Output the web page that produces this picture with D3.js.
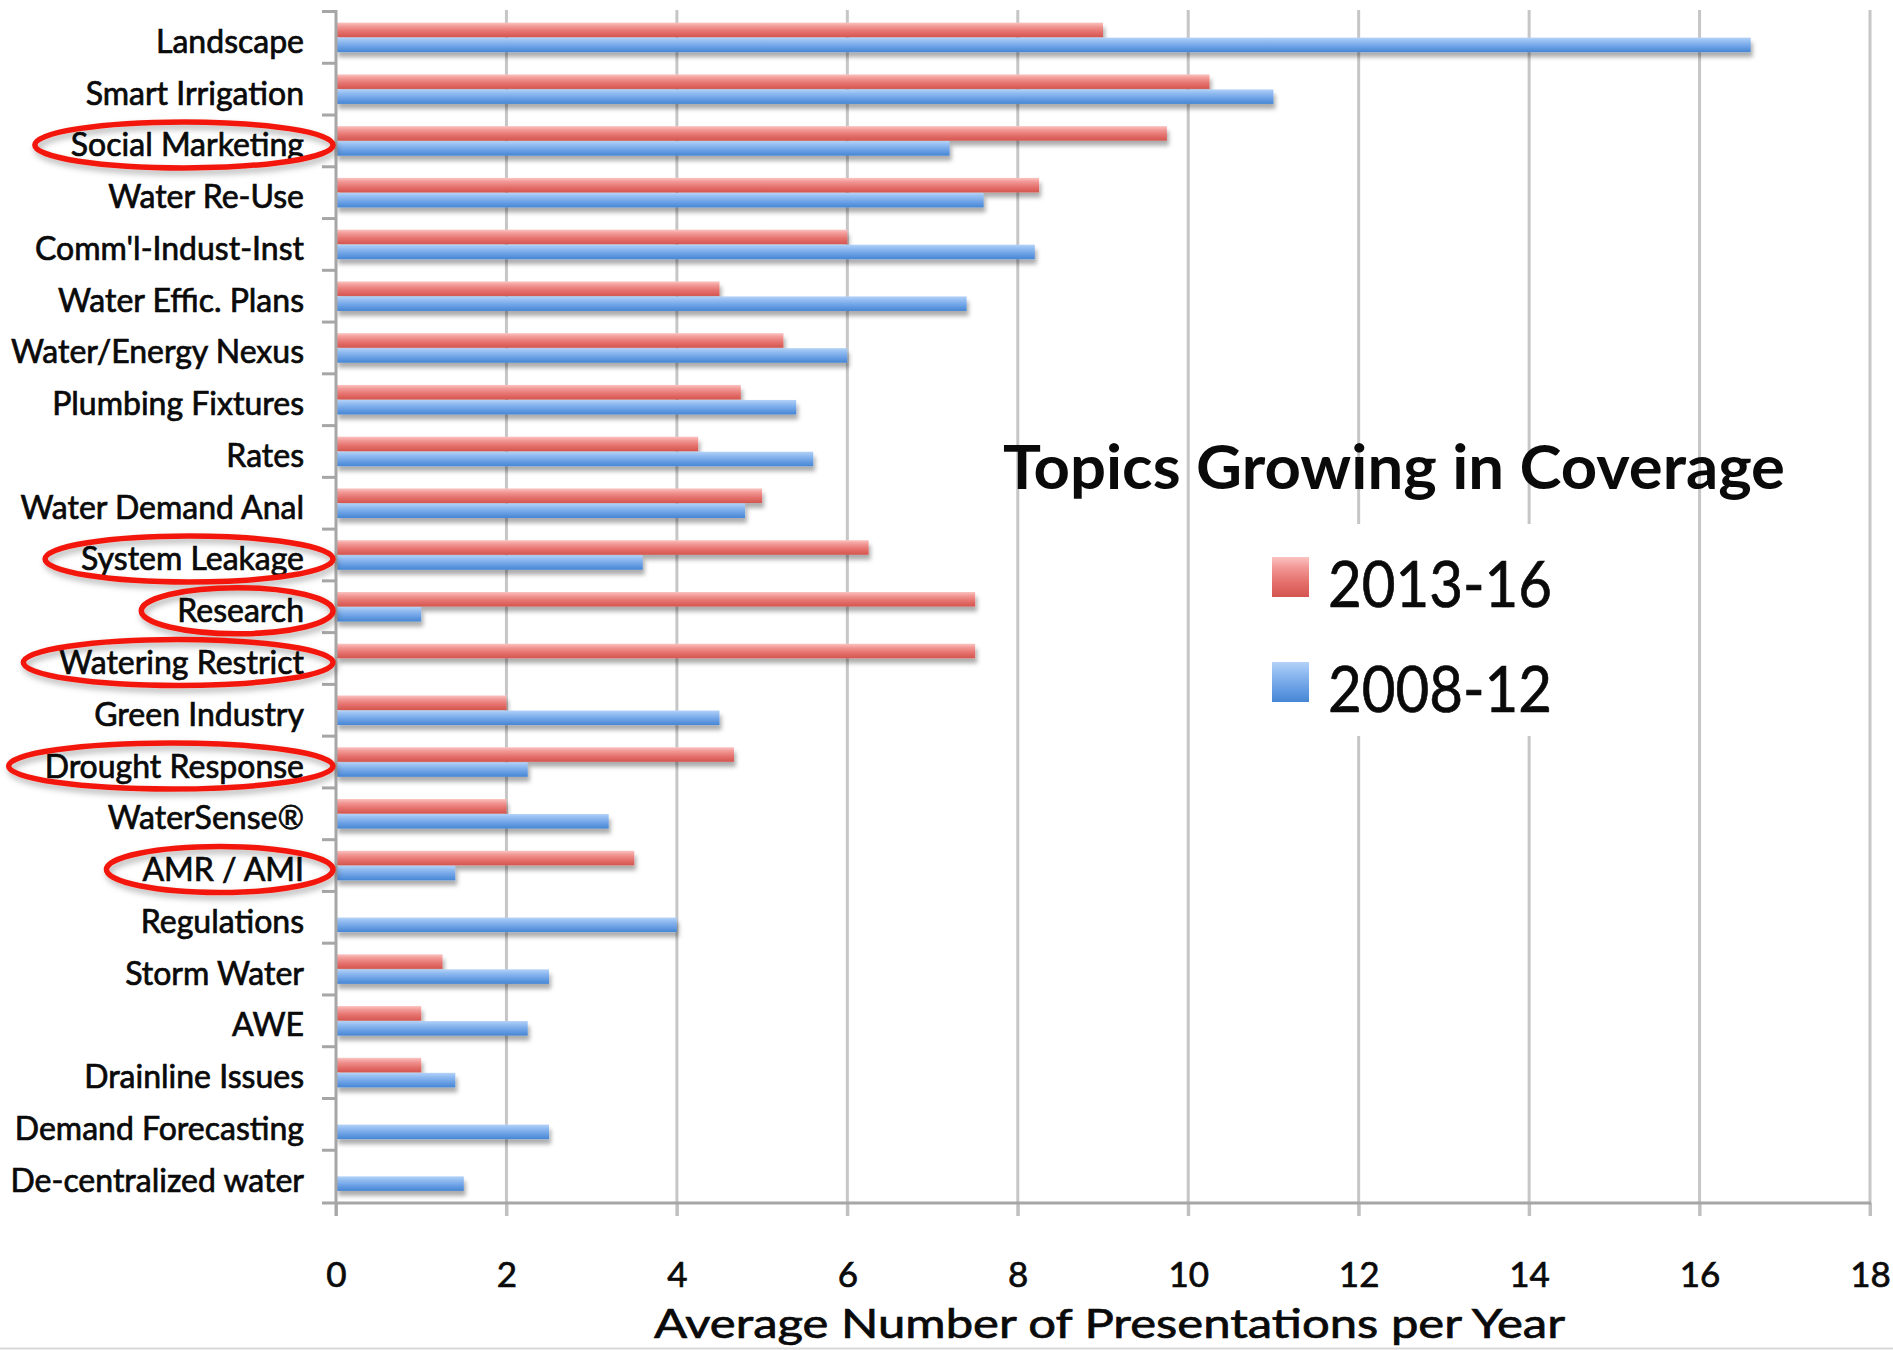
<!DOCTYPE html>
<html>
<head>
<meta charset="utf-8">
<title>Topics Growing in Coverage</title>
<script src="https://cdn.jsdelivr.net/npm/d3@7"></script>
<style>
  html, body { margin: 0; padding: 0; background: #fff; }
  svg { display: block; }
  text { font-family: Lato, "Open Sans", "DejaVu Sans", sans-serif; fill: #0a0a0a; }
  .heavy { stroke: #0a0a0a; stroke-width: 0.7px; }
</style>
</head>
<body>
<svg id="chart" width="1893" height="1350"></svg>
<script>
// Conference topics, top to bottom
const categories = [
  "Landscape", "Smart Irrigation", "Social Marketing", "Water Re-Use",
  "Comm'l-Indust-Inst", "Water Effic. Plans", "Water/Energy Nexus",
  "Plumbing Fixtures", "Rates", "Water Demand Anal", "System Leakage",
  "Research", "Watering Restrict", "Green Industry", "Drought Response",
  "WaterSense®", "AMR / AMI", "Regulations", "Storm Water", "AWE",
  "Drainline Issues", "Demand Forecasting", "De-centralized water"
];

// Average presentations per year, 2013-16
const recent = [
  9, 10.25, 9.75, 8.25, 6, 4.5, 5.25, 4.75, 4.25, 5, 6.25,
  7.5, 7.5, 2, 4.67, 2, 3.5, 0, 1.25, 1, 1, 0, 0
];

// Average presentations per year, 2008-12
const earlier = [
  16.6, 11, 7.2, 7.6, 8.2, 7.4, 6, 5.4, 5.6, 4.8, 3.6,
  1, 0, 4.5, 2.25, 3.2, 1.4, 4, 2.5, 2.25, 1.4, 2.5, 1.5
];

const seriesNames = ["2013-16", "2008-12"];
const highlighted = [
  "Social Marketing", "System Leakage", "Research",
  "Watering Restrict", "Drought Response", "AMR / AMI"
];
const xTicks = [0, 2, 4, 6, 8, 10, 12, 14, 16, 18];
const chartTitle = "Topics Growing in Coverage";
const xAxisTitle = "Average Number of Presentations per Year";

const svg = d3.select("#chart");
const W = 1893, H = 1350;

const x = d3.scaleLinear().domain([0, 18]).range([336, 1870]);
const y = d3.scaleBand().domain(categories).range([11.5, 1202]);
const ySeries = d3.scaleBand().domain(seriesNames)
  .range([0, y.bandwidth()]).paddingInner(0.03).paddingOuter(0.74);
const axisY = 1203;

// ---------- defs: bar gradients and soft shadows ----------
const defs = svg.append("defs");
function gradient(id, stops) {
  const g = defs.append("linearGradient").attr("id", id)
    .attr("x1", 0).attr("y1", 0).attr("x2", 0).attr("y2", 1);
  stops.forEach(([o, c]) => g.append("stop").attr("offset", o).attr("stop-color", c));
}
gradient("grad-recent", [[0, "#fbc3c1"], [0.25, "#f29a97"], [0.6, "#e6736f"], [1, "#d4554f"]]);
gradient("grad-earlier", [[0, "#b4d2f8"], [0.25, "#93bdf1"], [0.6, "#6ea2e6"], [1, "#4686d4"]]);

const barShadow = defs.append("filter").attr("id", "bar-shadow")
  .attr("x", "-5%").attr("y", "-50%").attr("width", "115%").attr("height", "220%");
barShadow.append("feDropShadow").attr("dx", 2).attr("dy", 5)
  .attr("stdDeviation", 2.2).attr("flood-color", "#000").attr("flood-opacity", 0.32);

const ringShadow = defs.append("filter").attr("id", "ring-shadow")
  .attr("x", "-20%").attr("y", "-40%").attr("width", "140%").attr("height", "180%");
ringShadow.append("feDropShadow").attr("dx", 2).attr("dy", 4)
  .attr("stdDeviation", 3).attr("flood-color", "#000").attr("flood-opacity", 0.3);

// ---------- vertical gridlines with tick stubs below the axis ----------
svg.append("g").attr("class", "grid")
  .selectAll("line").data(xTicks.filter(d => d > 0)).join("line")
  .attr("x1", d => x(d)).attr("x2", d => x(d))
  .attr("y1", 10).attr("y2", axisY + 13)
  .attr("stroke", "#c6c6c6").attr("stroke-width", 3);

// blank panel behind the legend
svg.append("rect")
  .attr("x", 1252).attr("y", 524).attr("width", 340).attr("height", 212)
  .attr("fill", "#fff");

// ---------- bars ----------
const rows = categories.map((c, i) => ({ c, values: [recent[i], earlier[i]] }));
const barGroups = svg.append("g").attr("class", "bars")
  .selectAll("g").data(rows).join("g")
  .attr("transform", d => `translate(0,${y(d.c)})`);

barGroups.selectAll("rect")
  .data(d => d.values.map((v, k) => ({ v, s: seriesNames[k] })).filter(e => e.v > 0))
  .join("rect")
  .attr("x", x(0))
  .attr("y", e => ySeries(e.s))
  .attr("width", e => x(e.v) - x(0))
  .attr("height", ySeries.bandwidth())
  .attr("fill", e => e.s === seriesNames[0] ? "url(#grad-recent)" : "url(#grad-earlier)")
  .attr("filter", "url(#bar-shadow)");

// ---------- x axis ----------
const xAxis = svg.append("g").attr("class", "x-axis")
  .attr("transform", `translate(0,${axisY})`)
  .call(d3.axisBottom(x).tickValues(xTicks).tickSize(13).tickFormat(d3.format("d")));
xAxis.select(".domain").remove();
xAxis.selectAll(".tick line").attr("stroke", "#c0c0c0").attr("stroke-width", 3);
xAxis.selectAll(".tick text")
  .attr("y", 84).attr("dy", 0)
  .attr("class", "heavy")
  .style("font-size", "35px").style("font-family", "Lato, sans-serif")
  .attr("fill", "#0a0a0a");
xAxis.append("line")
  .attr("x1", 322).attr("x2", x(18) + 1).attr("y1", 0).attr("y2", 0)
  .attr("stroke", "#a6a6a6").attr("stroke-width", 3);

// ---------- y axis: line, boundary ticks, labels ----------
const yAxisG = svg.append("g").attr("class", "y-axis");
const bounds = categories.map(c => y(c));
yAxisG.selectAll("line.ytick").data(bounds).join("line")
  .attr("class", "ytick")
  .attr("x1", 322).attr("x2", x(0)).attr("y1", d => d).attr("y2", d => d)
  .attr("stroke", "#a6a6a6").attr("stroke-width", 3);
yAxisG.append("line")
  .attr("x1", x(0)).attr("x2", x(0)).attr("y1", 10).attr("y2", axisY + 13)
  .attr("stroke", "#a6a6a6").attr("stroke-width", 3);

const labelAxis = svg.append("g").attr("class", "y-labels")
  .attr("transform", `translate(${x(0)},0)`)
  .call(d3.axisLeft(y).tickSize(0).tickPadding(32));
labelAxis.select(".domain").remove();
labelAxis.selectAll(".tick text")
  .attr("dy", 15.5)
  .attr("class", "heavy")
  .style("font-size", "32px").style("font-family", "Lato, sans-serif")
  .attr("fill", "#0a0a0a");

// ---------- red rings around the highlighted topics ----------
const rings = svg.append("g").attr("class", "rings");
labelAxis.selectAll(".tick").each(function (c) {
  if (!highlighted.includes(c)) return;
  const t = d3.select(this).select("text").node();
  const len = t.getComputedTextLength();
  const right = x(0) - 3;
  const left = x(0) - 32 - len - 36;
  rings.append("ellipse")
    .attr("cx", (left + right) / 2)
    .attr("cy", y(c) + y.bandwidth() / 2 + 4)
    .attr("rx", (right - left) / 2)
    .attr("ry", 23)
    .attr("fill", "none")
    .attr("stroke", "#f3190b")
    .attr("stroke-width", 5.5)
    .attr("filter", "url(#ring-shadow)");
});

// ---------- titles ----------
function fitText(sel, target) {
  const w = sel.node().getComputedTextLength();
  if (Math.abs(w - target) > 2) sel.attr("textLength", target).attr("lengthAdjust", "spacingAndGlyphs");
  return sel;
}

fitText(svg.append("text")
  .attr("x", 1003).attr("y", 489)
  .style("font-size", "62px").style("font-weight", 700)
  .text(chartTitle), 782);

fitText(svg.append("text")
  .attr("x", 654).attr("y", 1338)
  .attr("class", "heavy")
  .style("font-size", "41px")
  .text(xAxisTitle), 911);

// ---------- legend ----------
const legend = svg.append("g").attr("class", "legend");
seriesNames.forEach((name, i) => {
  const top = 557 + i * 105;
  legend.append("rect")
    .attr("x", 1272).attr("y", top).attr("width", 37).attr("height", 40)
    .attr("fill", i === 0 ? "url(#grad-recent)" : "url(#grad-earlier)");
  fitText(legend.append("text")
    .attr("x", 1328).attr("y", top + 50)
    .attr("class", "heavy")
    .style("font-size", "64px")
    .text(name), 224);
});

// faint frame edge along the bottom
svg.append("line")
  .attr("x1", 0).attr("x2", W).attr("y1", H - 1.5).attr("y2", H - 1.5)
  .attr("stroke", "#d8d8d8").attr("stroke-width", 2);
</script>
</body>
</html>
